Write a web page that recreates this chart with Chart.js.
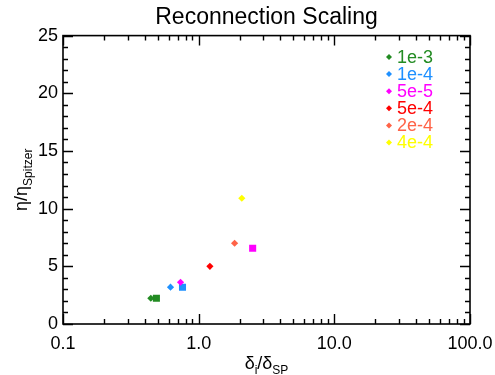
<!DOCTYPE html>
<html><head><meta charset="utf-8">
<script src="https://cdn.jsdelivr.net/npm/chart.js@4"></script>
<style>html,body{margin:0;padding:0;background:#fff}#wrap{width:495px;height:375px}</style>
</head><body><div id="wrap"><canvas id="c" width="495" height="375"></canvas></div>
<script>
const chartTitle = 'Reconnection Scaling';
const seriesLabels = ['1e-3', '1e-4', '5e-5', '5e-4', '2e-4', '4e-4'];
const seriesColors = ['#228B22', '#1E90FF', '#FF00FF', '#FF0000', '#FF6347', '#FFFF00'];
const diamondX = [0.444, 0.62, 0.735, 1.21, 1.84, 2.08];
const diamondY = [2.23, 3.19, 3.62, 5.0, 7.0, 10.9];
const squareSeries = [0, 1, 2];
const squareX = [0.488, 0.76, 2.50];
const squareY = [2.23, 3.19, 6.57];
const xTickValues = [0.1, 1, 10, 100];
const xTickLabels = ['0.1', '1.0', '10.0', '100.0'];
const yTickValues = [0, 5, 10, 15, 20, 25];

const FONT = '"Liberation Sans", Arial, Helvetica, sans-serif';

const datasets = [];
seriesLabels.forEach((lab, i) => {
  datasets.push({label: lab, data: [{x: diamondX[i], y: diamondY[i]}], pointStyle: 'rectRot',
    pointRadius: 3.6, backgroundColor: seriesColors[i], borderColor: seriesColors[i], borderWidth: 0, showLine: false});
});
squareSeries.forEach((si, j) => {
  datasets.push({label: seriesLabels[si] + ' (square)', data: [{x: squareX[j], y: squareY[j]}], pointStyle: 'rect',
    pointRadius: 5, backgroundColor: seriesColors[si], borderColor: seriesColors[si], borderWidth: 0, showLine: false});
});

const framePlugin = {
  id: 'frame',
  afterDraw(chart) {
    const {ctx, chartArea: a, scales: {x, y}} = chart;
    ctx.save();
    ctx.strokeStyle = '#000';
    ctx.lineWidth = 1.6;
    ctx.strokeRect(a.left, a.top, a.right - a.left, a.bottom - a.top);
    ctx.beginPath();
    ctx.lineWidth = 1.4;
    for (let v = 0; v <= 25; v++) {
      const py = Math.round(y.getPixelForValue(v)) + 0.5;
      const len = v % 5 === 0 ? 10 : 5;
      ctx.moveTo(a.left, py); ctx.lineTo(a.left + len, py);
      ctx.moveTo(a.right, py); ctx.lineTo(a.right - len, py);
    }
    for (let d = -1; d <= 2; d++) {
      for (let m = 1; m <= 9; m++) {
        const v = m * Math.pow(10, d);
        if (v > 100.0001) continue;
        const px = Math.round(x.getPixelForValue(v)) + 0.5;
        const len = m === 1 ? 10 : 5;
        ctx.moveTo(px, a.bottom); ctx.lineTo(px, a.bottom - len);
        ctx.moveTo(px, a.top); ctx.lineTo(px, a.top + len);
      }
    }
    ctx.stroke();

    // legend
    ctx.textBaseline = 'middle';
    ctx.textAlign = 'left';
    ctx.font = '18px ' + FONT;
    seriesLabels.forEach((lab, i) => {
      const cy = 57 + i * 17.1;
      const cx = 389;
      ctx.fillStyle = seriesColors[i];
      ctx.beginPath();
      ctx.moveTo(cx, cy - 3); ctx.lineTo(cx + 3, cy); ctx.lineTo(cx, cy + 3); ctx.lineTo(cx - 3, cy); ctx.closePath();
      ctx.fill();
      ctx.fillText(lab, 397, cy + 1);
    });

    // axis titles with subscripts
    ctx.fillStyle = '#000';
    const big = '18px ' + FONT, small = '12px ' + FONT;
    const parts = [['δ', big, 0], ['i', small, 5], ['/δ', big, 0], ['SP', small, 5]];
    let total = 0;
    parts.forEach(p => { ctx.font = p[1]; total += ctx.measureText(p[0]).width; });
    let sx = (a.left + a.right) / 2 - total / 2;
    const by = 369;
    ctx.textBaseline = 'alphabetic';
    parts.forEach(p => { ctx.font = p[1]; ctx.fillText(p[0], sx, by + p[2]); sx += ctx.measureText(p[0]).width; });
    const yparts = [['η/η', big, 0], ['Spitzer', small, 5]];
    total = 0;
    yparts.forEach(p => { ctx.font = p[1]; total += ctx.measureText(p[0]).width; });
    ctx.translate(27, (a.top + a.bottom) / 2);
    ctx.rotate(-Math.PI / 2);
    sx = -total / 2;
    yparts.forEach(p => { ctx.font = p[1]; ctx.fillText(p[0], sx, p[2]); sx += ctx.measureText(p[0]).width; });
    ctx.restore();
  }
};

new Chart(document.getElementById('c'), {
  type: 'scatter',
  data: {datasets},
  options: {
    responsive: false,
    animation: false,
    devicePixelRatio: 1,
    layout: {padding: 0},
    plugins: {
      legend: {display: false},
      tooltip: {enabled: false},
      title: {display: true, text: chartTitle, fullSize: false, color: '#000',
        font: {family: FONT, size: 23, weight: 'normal'}, padding: {top: 4, bottom: 4}}
    },
    scales: {
      x: {
        type: 'logarithmic', min: 0.1, max: 100,
        grid: {display: false, drawTicks: false},
        border: {display: false},
        afterBuildTicks: s => { s.ticks = xTickValues.map(v => ({value: v})); },
        afterFit: s => { s.height = 51; s.paddingRight = 25; s.paddingLeft = 0; },
        ticks: {color: '#000', font: {family: FONT, size: 18}, padding: 9, maxRotation: 0, autoSkip: false,
          callback: (v) => { const k = xTickValues.findIndex(t => Math.abs(t - v) < 1e-9); return k >= 0 ? xTickLabels[k] : ''; }}
      },
      y: {
        min: 0, max: 25,
        grid: {display: false, drawTicks: false},
        border: {display: false},
        afterBuildTicks: s => { s.ticks = yTickValues.map(v => ({value: v})); },
        afterFit: s => { s.width = 63; s.paddingTop = 0; s.paddingBottom = 0; },
        ticks: {color: '#000', font: {family: FONT, size: 18}, padding: 5}
      }
    }
  },
  plugins: [framePlugin]
});
</script>
</body></html>
